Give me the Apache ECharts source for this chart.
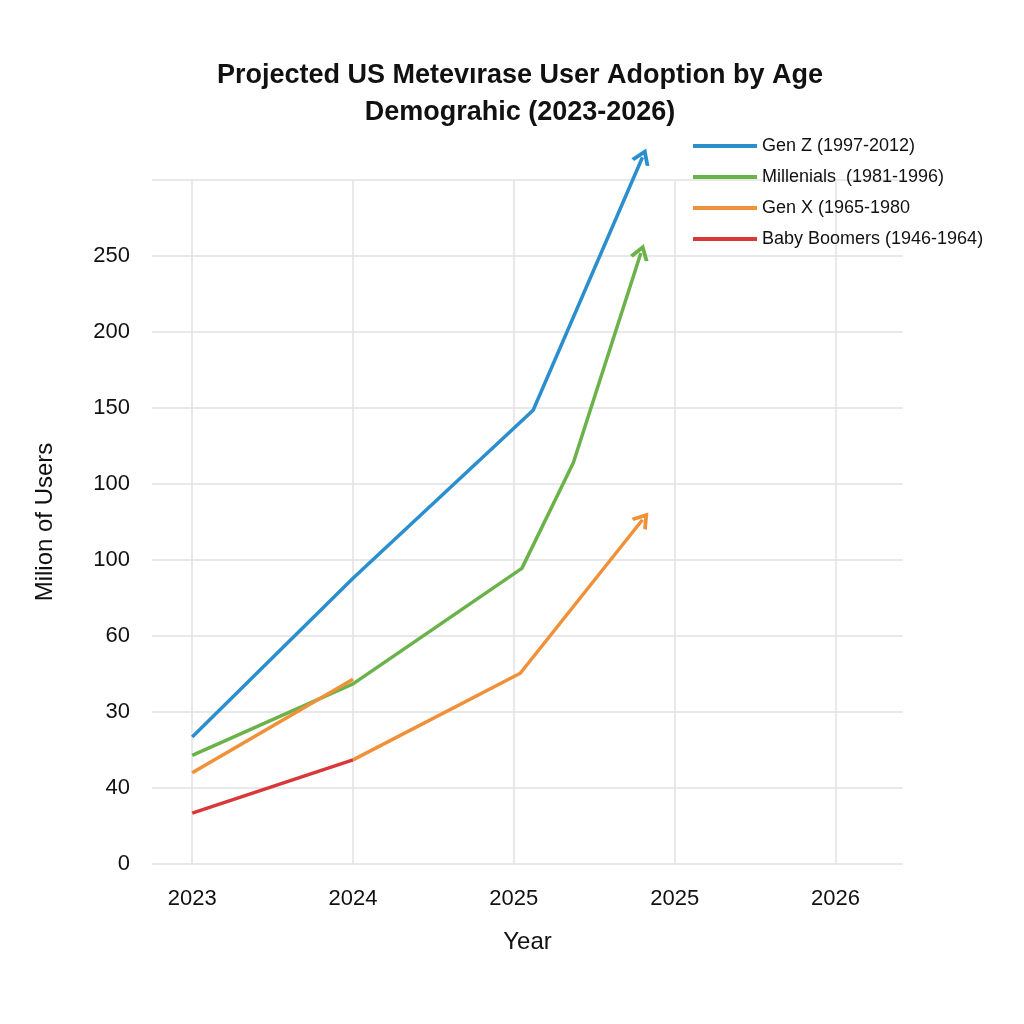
<!DOCTYPE html>
<html lang="en">
<head>
<meta charset="UTF-8">
<title>Metaverse adoption</title>
<style>
  html, body { margin: 0; padding: 0; background: #fff; }
  #a { width: 1024px; height: 1024px; }
</style>
</head>
<body>
<div id="a"></div>
<script src="https://cdn.jsdelivr.net/npm/echarts@6/dist/echarts.min.js"></script>
<script>
// tick labels exactly as printed (positions are index steps)
var yLabels = ['0', '40', '30', '60', '100', '100', '150', '200', '250', ''];
var xLabels = ['2023', '2024', '2025', '2025', '2026'];

// values in grid steps [x index, y index]
var genZ = [[0, 1.67], [1, 3.76], [2.12, 5.97], [2.8, 9.3]];
var millenials = [[0, 1.43], [1, 2.37], [2.05, 3.89], [2.37, 5.28], [2.79, 8.04]];
var genXa = [[0, 1.2], [1, 2.43]];
var genXb = [[1, 1.37], [2.04, 2.51], [2.8, 4.53]];
var boomers = [[0, 0.67], [1, 1.37]];

var chevron = 'path://M0,10 L5,0 L10,10';

function withArrow(data, color, rot) {
  return data.map(function (p, i) {
    if (i < data.length - 1) return p;
    return {
      value: p, symbol: chevron, symbolSize: [16, 12], symbolRotate: rot,
      itemStyle: { color: 'none', borderColor: color, borderWidth: 3.5 }
    };
  });
}

function line(name, data, color) {
  return {
    name: name, type: 'line', data: data, clip: false, z: 5,
    symbol: 'none', showSymbol: true,
    lineStyle: { color: color, width: 3.5 }, itemStyle: { color: color },
    emphasis: { disabled: true }
  };
}

var myChart = echarts.init(document.getElementById('a'));
var option = {
  animation: false,
  title: {
    text: 'Projected US Metevırase User Adoption by Age\nDemograhic (2023-2026)',
    left: 515, top: 52, textAlign: 'center',
    textStyle: { fontFamily: 'Liberation Sans', fontSize: 27, fontWeight: 'bold', color: '#111', lineHeight: 37 }
  },
  legend: {
    orient: 'vertical', left: 688, top: 132, itemGap: 13,
    itemWidth: 64, itemHeight: 4, icon: 'rect',
    textStyle: { fontFamily: 'Liberation Sans', fontSize: 18, color: '#111' },
    data: ['Gen Z (1997-2012)', 'Millenials  (1981-1996)', 'Gen X (1965-1980', 'Baby Boomers (1946-1964)']
  },
  grid: { left: 152, right: 121, top: 180, bottom: 160 },
  xAxis: {
    type: 'value', min: -0.25, max: 4.42,
    name: 'Year', nameLocation: 'middle', nameGap: 66,
    nameTextStyle: { fontFamily: 'Liberation Sans', fontSize: 24, color: '#111' },
    axisLine: { show: false }, axisTick: { show: false }, splitLine: { show: false },
    axisLabel: {
      customValues: [0, 1, 2, 3, 4], margin: 24,
      fontFamily: 'Liberation Sans', fontSize: 22, color: '#111',
      formatter: function (v) { return xLabels[Math.round(v)]; }
    }
  },
  yAxis: {
    type: 'value', min: 0, max: 9, interval: 1,
    name: 'Milion of Users', nameLocation: 'middle', nameGap: 95,
    nameTextStyle: { fontFamily: 'Liberation Sans', fontSize: 24, color: '#111' },
    axisLine: { show: false }, axisTick: { show: false },
    splitLine: { lineStyle: { color: '#e2e2e2', width: 1.5 } },
    axisLabel: {
      margin: 22, fontFamily: 'Liberation Sans', fontSize: 22, color: '#111',
      formatter: function (v) { return yLabels[Math.round(v)]; }
    }
  },
  series: [
    {
      type: 'line', data: [], z: 1, silent: true,
      markLine: {
        silent: true, symbol: 'none', label: { show: false }, z: 1,
        lineStyle: { color: '#e2e2e2', width: 1.5, type: 'solid' },
        data: xLabels.map(function (l, i) { return { xAxis: i }; })
      }
    },
    line('Gen Z (1997-2012)', withArrow(genZ, '#2b8fcd', -23), '#2b8fcd'),
    line('Millenials  (1981-1996)', withArrow(millenials, '#6cb24a', -18), '#6cb24a'),
    line('Gen X (1965-1980', genXa, '#f0913a'),
    line('Gen X (1965-1980', withArrow(genXb, '#f0913a', -39), '#f0913a'),
    line('Baby Boomers (1946-1964)', boomers, '#d9383a')
  ]
};
myChart.setOption(option);
</script>
</body>
</html>
